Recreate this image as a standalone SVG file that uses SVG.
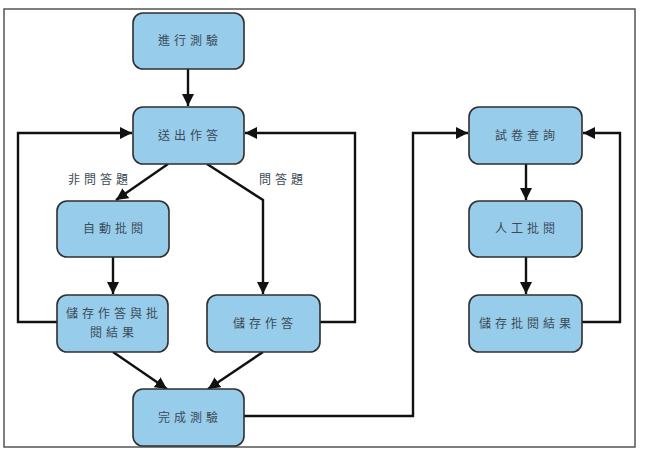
<svg xmlns="http://www.w3.org/2000/svg" width="645" height="449" viewBox="0 0 645 449">
<style>
.n rect{fill:#97cdeb;stroke:#2f2f2f;stroke-width:1.6}
text{font-family:"Noto Sans CJK TC","Noto Sans CJK SC",sans-serif;font-size:12px;fill:#3c4a55;text-anchor:middle;letter-spacing:4px}
.c path{fill:none;stroke:#111;stroke-width:2.4}
</style>
<defs>
<marker id="a" viewBox="0 0 10 10" refX="10" refY="5" markerWidth="5" markerHeight="5" orient="auto" markerUnits="strokeWidth">
<path d="M0,0L10,5L0,10z" fill="#111"/>
</marker>
</defs>
<rect x="4" y="9" width="631" height="438" fill="#fff" stroke="#555" stroke-width="1.5"/>
<g class="c" marker-end="url(#a)">
<path d="M188,69V106" marker-end="url(#a)"/>
<path d="M168,164L116,200" marker-end="url(#a)"/>
<path d="M207,164L263,200V294" marker-end="url(#a)"/>
<path d="M113,257V294" marker-end="url(#a)"/>
<path d="M57,322H18V133H132" marker-end="url(#a)"/>
<path d="M320,322H355V133H245" marker-end="url(#a)"/>
<path d="M113,352L167,389" marker-end="url(#a)"/>
<path d="M263,352L208,389" marker-end="url(#a)"/>
<path d="M244,416H413V133H468" marker-end="url(#a)"/>
<path d="M526,164V200" marker-end="url(#a)"/>
<path d="M526,257V294" marker-end="url(#a)"/>
<path d="M582,322H620V133H583" marker-end="url(#a)"/>
</g>
<g id="n1" class="n"><rect x="133" y="13" width="111" height="56" rx="10"/><text x="190" y="45">進行測驗</text></g>
<g id="n2" class="n"><rect x="133" y="107" width="111" height="57" rx="10"/><text x="190" y="140">送出作答</text></g>
<g id="n3" class="n"><rect x="57" y="201" width="112" height="56" rx="10"/><text x="115" y="233">自動批閱</text></g>
<g id="n4" class="n"><rect x="57" y="295" width="111" height="57" rx="10"/><text x="114" y="318">儲存作答與批</text><text x="114" y="337">閱結果</text></g>
<g id="n5" class="n"><rect x="207" y="295" width="113" height="57" rx="10"/><text x="265" y="328">儲存作答</text></g>
<g id="n6" class="n"><rect x="133" y="389" width="111" height="57" rx="10"/><text x="190" y="422">完成測驗</text></g>
<g id="n7" class="n"><rect x="469" y="107" width="113" height="57" rx="10"/><text x="527" y="140">試卷查詢</text></g>
<g id="n8" class="n"><rect x="469" y="201" width="113" height="56" rx="10"/><text x="527" y="233">人工批閱</text></g>
<g id="n9" class="n"><rect x="469" y="295" width="113" height="57" rx="10"/><text x="527" y="328">儲存批閱結果</text></g>
<text x="100" y="184">非問答題</text>
<text x="283" y="184">問答題</text>
</svg>
